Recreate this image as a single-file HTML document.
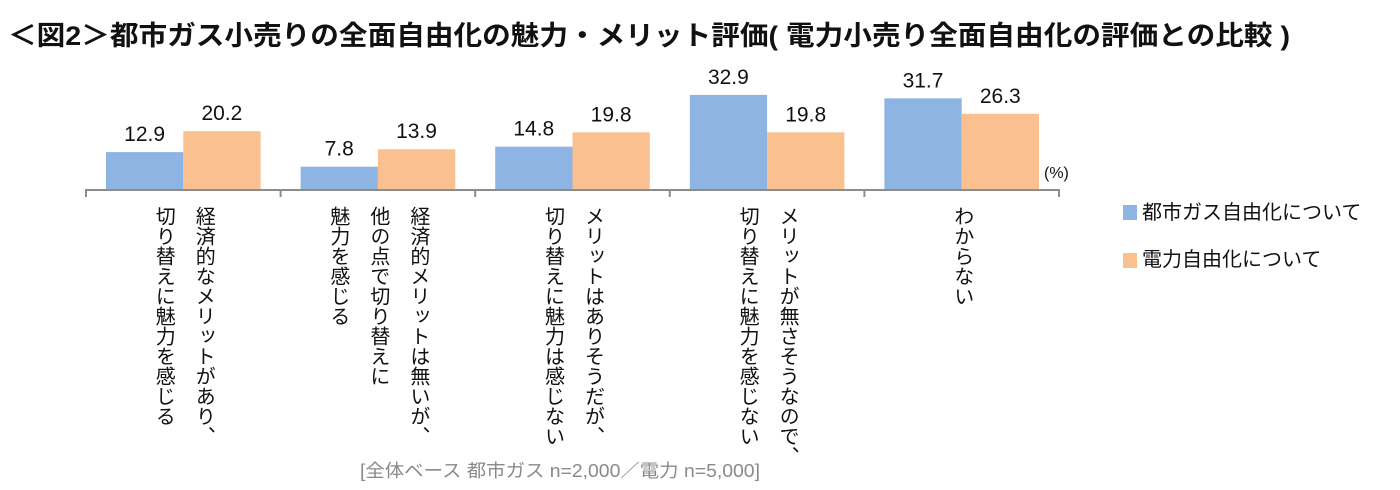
<!DOCTYPE html>
<html><head><meta charset="utf-8"><style>
body{margin:0;background:#fff;width:1400px;height:490px;overflow:hidden;position:relative;font-family:"Liberation Sans","Noto Sans CJK JP",sans-serif;}
svg{position:absolute;left:0;top:0}
.vl{position:absolute;top:206px;writing-mode:vertical-rl;font-size:20px;line-height:40px;color:#111;white-space:nowrap;font-family:"Liberation Sans","Noto Sans CJK JP",sans-serif;}
</style></head><body>
<svg id="chart" width="1400" height="490">
<text x="8" y="45" font-size="27" font-weight="bold" textLength="1282" lengthAdjust="spacingAndGlyphs" fill="#111" font-family="Liberation Sans, Noto Sans CJK JP, sans-serif">＜図2＞都市ガス小売りの全面自由化の魅力・メリット評価( 電力小売り全面自由化の評価との比較 )</text>
<text x="1044" y="178" font-size="16" fill="#111" font-family="Liberation Sans, sans-serif">(%)</text>
<rect x="1123" y="205" width="14" height="15" fill="#8EB4E3"/>
<text x="1142" y="219" font-size="20" fill="#111" font-family="Liberation Sans, Noto Sans CJK JP, sans-serif">都市ガス自由化について</text>
<rect x="1123" y="253" width="14" height="15" fill="#FAC090"/>
<text x="1142" y="266" font-size="20" fill="#111" font-family="Liberation Sans, Noto Sans CJK JP, sans-serif">電力自由化について</text>
<text x="360" y="477" font-size="18" fill="#8a8a8a" textLength="400" lengthAdjust="spacingAndGlyphs" font-family="Liberation Sans, Noto Sans CJK JP, sans-serif">[全体ベース 都市ガス n=2,000／電力 n=5,000]</text>
</svg>
<script>
const categories=["経済的なメリットがあり、|切り替えに魅力を感じる","経済的メリットは無いが、|他の点で切り替えに|魅力を感じる","メリットはありそうだが、|切り替えに魅力は感じない","メリットが無さそうなので、|切り替えに魅力を感じない","わからない"];
const gasValues=[12.9,7.8,14.8,32.9,31.7];
const powerValues=[20.2,13.9,19.8,19.8,26.3];
const NS="http://www.w3.org/2000/svg";
const svg=document.getElementById('chart');
const x0=86,step=194.6,base=189,k=2.86;
const y=v=>base-v*k;
function mk(tag,attrs){const e=document.createElementNS(NS,tag);for(const a in attrs)e.setAttribute(a,attrs[a]);svg.appendChild(e);return e;}
const ax=mk('line',{x1:x0,y1:base+1,x2:x0+step*categories.length,y2:base+1,stroke:'#8c8c8c','stroke-width':2});


for(let i=0;i<=categories.length;i++){
 const t=mk('line',{x1:x0+step*i,y1:base,x2:x0+step*i,y2:base+8,stroke:'#8c8c8c','stroke-width':2});
 
 
}
const series=[[gasValues,'#8EB4E3','gas'],[powerValues,'#FAC090','power']];
categories.forEach((c,i)=>{
 const left=x0+step*i+20;
 series.forEach(([vals,col,nm],j)=>{
  const bx=left+j*77.3,v=vals[i];
  const r=mk('rect',{x:bx,y:y(v),width:77.3,height:base-y(v),fill:col});
  
  
  const t=mk('text',{x:bx+38.6,y:y(v)-11,'font-size':21,'text-anchor':'middle',fill:'#111','font-family':'Liberation Sans, sans-serif'});
  t.textContent=v.toFixed(1);
  
  
 });
 const d=document.createElement('div');
 d.className='vl';
 const lines=c.split('|');
 d.innerHTML=lines.join('<br>');
 const cx=x0+step*(i+0.5);
 d.style.left=(cx-lines.length*20)+'px';
 
 
 document.body.appendChild(d);
});
</script>
</body></html>
